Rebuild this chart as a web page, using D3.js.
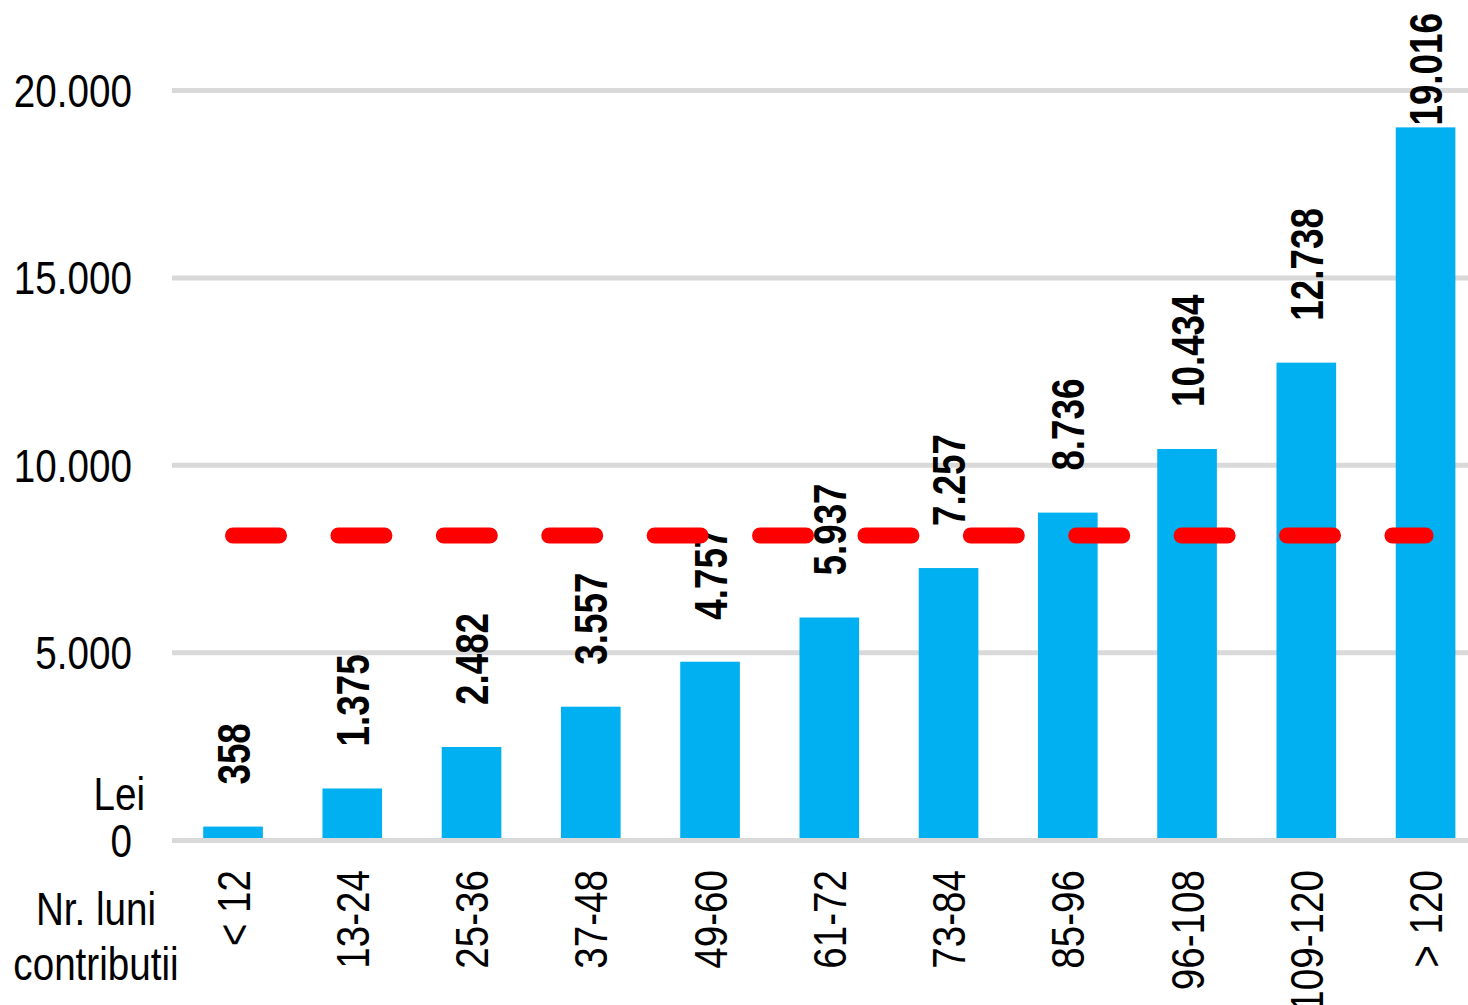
<!DOCTYPE html>
<html>
<head>
<meta charset="utf-8">
<script src="https://cdn.jsdelivr.net/npm/d3@7"></script>
<style>
  body { margin: 0; background: #fff; }
  svg text { font-family: "Liberation Sans", Arial, sans-serif; }
</style>
</head>
<body>
<div class="vis"></div>
<script>
// months of contributions (categories) and average amount in lei
const categories = ["< 12", "13-24", "25-36", "37-48", "49-60", "61-72", "73-84", "85-96", "96-108", "109-120", "> 120"];
const values = [358, 1375, 2482, 3557, 4757, 5937, 7257, 8736, 10434, 12738, 19016];
const yTicks = [0, 5000, 10000, 15000, 20000];
const refValue = 8125;

const width = 1468, height = 1005;
const fmt = v => d3.format(",")(v).replace(/,/g, ".");
// no narrow font installed, so squeeze the regular one
const narrow = "scale(0.84,1)";
const narrowBold = "scale(0.8,1)";

const svg = d3.select(".vis")
	.append("svg")
	.attr("width", width)
	.attr("height", height);

// scales
const x = d3.scaleBand()
	.domain(categories)
	.range([173.4, 1485.2])
	.paddingInner(0.5)
	.paddingOuter(0.25);

const y = d3.scaleLinear()
	.domain([0, 20000])
	.range([840, 90.5]);

// gridlines (behind bars)
svg.append("g")
	.selectAll("line")
	.data(yTicks.filter(t => t > 0))
	.enter()
	.append("line")
	.attr("x1", 172).attr("x2", width)
	.attr("y1", d => y(d)).attr("y2", d => y(d))
	.attr("stroke", "#d9d9d9")
	.attr("stroke-width", 5);

// Y axis labels
svg.append("g")
	.selectAll("text")
	.data(yTicks)
	.enter()
	.append("text")
	.attr("transform", d => "translate(132," + y(d) + ")" + narrow)
	.attr("dy", "0.36em")
	.attr("text-anchor", "end")
	.style("font-size", "46px")
	.attr("fill", "#000")
	.text(d => fmt(d));

svg.append("text")
	.attr("transform", "translate(145,793)" + narrow)
	.attr("dy", "0.36em")
	.attr("text-anchor", "end")
	.style("font-size", "46px")
	.text("Lei");

// bars
svg.selectAll("mybar")
	.data(values)
	.enter()
	.append("rect")
	.attr("x", (d, i) => x(categories[i]))
	.attr("y", d => y(d))
	.attr("width", x.bandwidth())
	.attr("height", d => y(0) - y(d))
	.attr("fill", "#00b0f0");

// zero line on top of bars
svg.append("line")
	.attr("x1", 172).attr("x2", width)
	.attr("y1", y(0) + 0.5).attr("y2", y(0) + 0.5)
	.attr("stroke", "#d9d9d9")
	.attr("stroke-width", 5);

// value labels
const labels = svg.append("g")
	.selectAll("text")
	.data(values)
	.enter()
	.append("text")
	.attr("text-anchor", "start")
	.attr("dy", "0.36em")
	.style("font-size", "46px")
	.style("font-weight", "bold")
	.attr("fill", "#000")
	.text(d => fmt(d));

labels.each(function(d, i) {
	const len = this.getComputedTextLength() * 0.8;
	const cx = x(categories[i]) + x.bandwidth() / 2;
	const base = Math.max(y(d) - 42, len + 13);
	d3.select(this).attr("transform", "translate(" + cx + "," + base + ")rotate(-90)" + narrowBold);
});

// reference line
svg.append("line")
	.attr("x1", x(categories[0]) + x.bandwidth() / 2)
	.attr("x2", x(categories[categories.length - 1]) + x.bandwidth() / 2)
	.attr("y1", y(refValue)).attr("y2", y(refValue))
	.attr("stroke", "#ff0000")
	.attr("stroke-width", 16)
	.attr("stroke-linecap", "round")
	.attr("stroke-dasharray", "46,59.4");

// X axis labels
svg.append("g")
	.selectAll("text")
	.data(categories)
	.enter()
	.append("text")
	.attr("transform", d => "translate(" + (x(d) + x.bandwidth() / 2) + ",870)rotate(-90)" + narrow)
	.attr("dy", "0.36em")
	.attr("text-anchor", "end")
	.style("font-size", "46px")
	.attr("fill", "#000")
	.text(d => d);

svg.append("text")
	.attr("transform", "translate(96,908)" + narrow)
	.attr("dy", "0.36em")
	.attr("text-anchor", "middle")
	.style("font-size", "46px")
	.text("Nr. luni");

svg.append("text")
	.attr("transform", "translate(96,963)" + narrow)
	.attr("dy", "0.36em")
	.attr("text-anchor", "middle")
	.style("font-size", "46px")
	.text("contributii");
</script>
</body>
</html>
